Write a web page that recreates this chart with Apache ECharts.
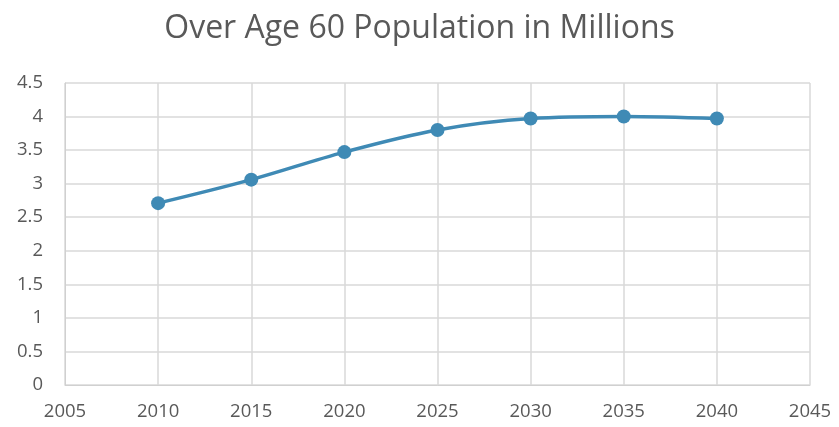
<!DOCTYPE html>
<html><head><meta charset="utf-8">
<script src="https://cdn.jsdelivr.net/npm/echarts@6/dist/echarts.min.js"></script>
<style>html,body{margin:0;padding:0;background:#fff}#c{width:839px;height:427px}</style>
</head><body><div id="c"></div>
<script>
const years = [2010, 2015, 2020, 2025, 2030, 2035, 2040];
const values = [2.71, 3.06, 3.47, 3.80, 3.97, 4.00, 3.97];
const titleText = 'Over Age 60 Population in Millions';
const chart = echarts.init(document.getElementById('c'), null, {renderer: 'canvas'});
const font = '"Open Sans", "Noto Sans", sans-serif';
chart.setOption({
  animation: false,
  backgroundColor: '#fff',
  title: {text: titleText, left: 'center', top: 8,
    textStyle: {fontFamily: font, fontSize: 32, fontWeight: 'normal', color: '#595959'}},
  grid: {left: 65, right: 29, top: 83, bottom: 42},
  xAxis: {type: 'value', min: 2005, max: 2045, interval: 5,
    axisLine: {show: true, lineStyle: {color: '#d0d0d0', width: 1}},
    axisTick: {show: false},
    splitLine: {show: true, lineStyle: {color: '#d9d9d9', width: 1.5}},
    axisLabel: {fontFamily: font, fontSize: 18.5, color: '#595959', margin: 17,
      formatter: v => String(v)}},
  yAxis: {type: 'value', min: 0, max: 4.5, interval: 0.5,
    axisLine: {show: true, lineStyle: {color: '#d0d0d0', width: 1}},
    axisTick: {show: false},
    splitLine: {show: true, lineStyle: {color: '#d9d9d9', width: 1.5}},
    axisLabel: {fontFamily: font, fontSize: 18.5, color: '#595959', margin: 22}},
  series: [{type: 'line', data: years.map((y, i) => [y, values[i]]),
    smooth: 0.35, symbol: 'circle', symbolSize: 14,
    lineStyle: {color: '#3f8ab5', width: 3.5},
    itemStyle: {color: '#3f8ab5'}}]
});
</script></body></html>
